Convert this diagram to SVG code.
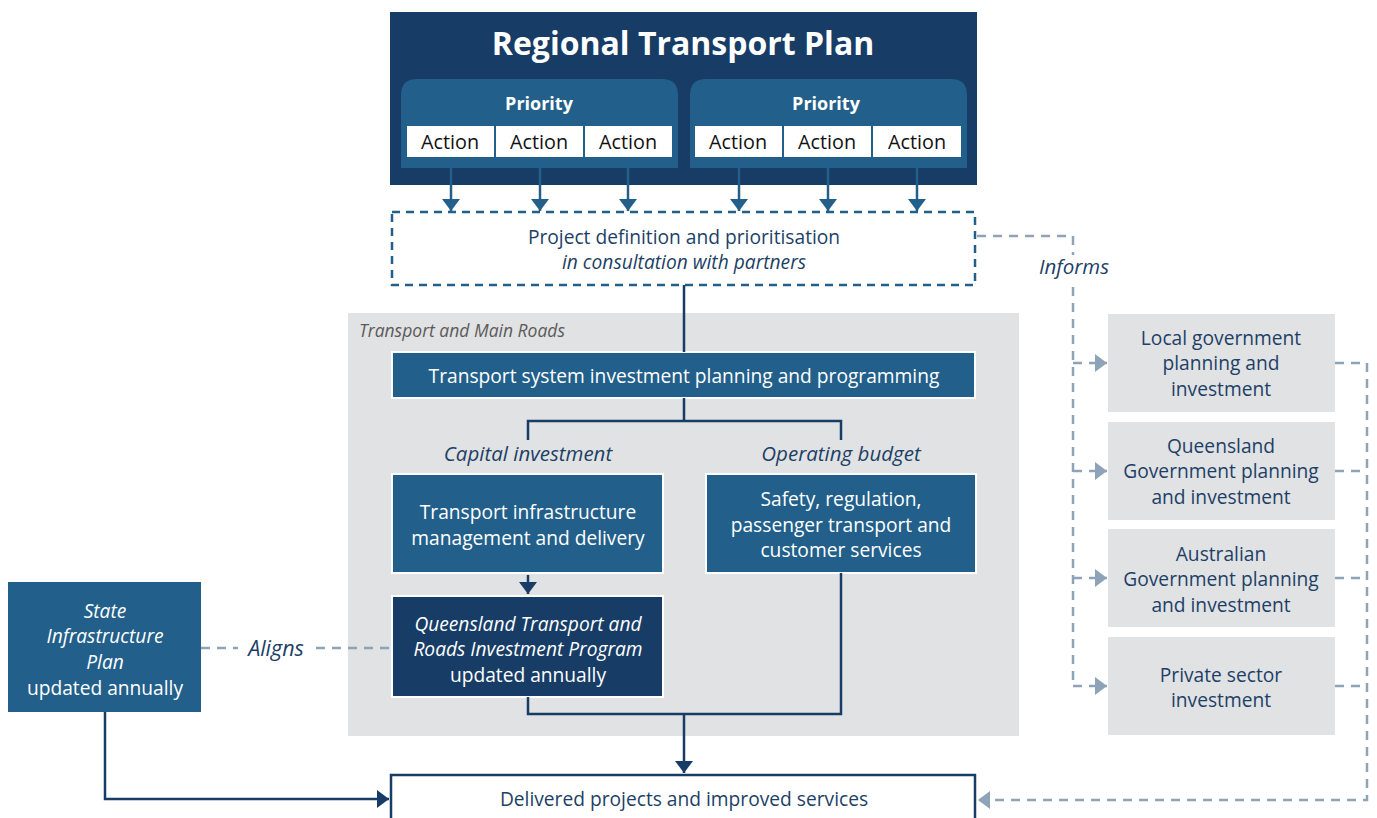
<svg xmlns="http://www.w3.org/2000/svg" width="1377" height="818" viewBox="0 0 1377 818">
<defs>
<style>
text{font-family:"Open Sans","Liberation Sans",sans-serif;font-size:19.2px;text-anchor:middle}
.w{fill:#ffffff}
.d{fill:#1d3f66}
.i{font-style:italic}
.lbl{font-size:20.5px}
.mid{fill:#225f8a}
.navy{fill:#173d66}
.blk{fill:#111}
.ln{fill:none;stroke:#173d66;stroke-width:2.5}
.dg{fill:none;stroke:#8fa3b8;stroke-width:2.5;stroke-dasharray:9 7}
</style>
<marker id="ab" markerWidth="18" markerHeight="12" refX="9" refY="12" orient="0" markerUnits="userSpaceOnUse" viewBox="0 0 18 12"><path d="M0,0 L18,0 L9,12 Z" fill="#225f8a"/></marker>
<marker id="an" markerWidth="18" markerHeight="12" refX="9" refY="12" orient="0" markerUnits="userSpaceOnUse" viewBox="0 0 18 12"><path d="M0,0 L18,0 L9,12 Z" fill="#173d66"/></marker>
<marker id="anr" markerWidth="12" markerHeight="18" refX="12" refY="9" orient="0" markerUnits="userSpaceOnUse" viewBox="0 0 12 18"><path d="M0,0 L12,9 L0,18 Z" fill="#173d66"/></marker>
<marker id="agr" markerWidth="12" markerHeight="18" refX="12" refY="9" orient="0" markerUnits="userSpaceOnUse" viewBox="0 0 12 18"><path d="M0,0 L12,9 L0,18 Z" fill="#8fa3b8"/></marker>
<marker id="agl" markerWidth="12" markerHeight="18" refX="0" refY="9" orient="0" markerUnits="userSpaceOnUse" viewBox="0 0 12 18"><path d="M12,0 L0,9 L12,18 Z" fill="#8fa3b8"/></marker>
</defs>
<rect width="1377" height="818" fill="#ffffff"/>

<g id="tmr-area">
<rect x="348" y="313" width="671" height="423" fill="#e1e2e4"/>
<text x="359" y="337" style="font-size:17.5px;text-anchor:start;fill:#5a5a5a" class="i">Transport and Main Roads</text>
</g>

<g id="rtp">
<rect x="390" y="12" width="587" height="173" class="navy"/>
<text x="683" y="55" class="w" style="font-size:32px;font-weight:bold">Regional Transport Plan</text>
<path d="M401,168 V95 Q401,79 417,79 H662 Q678,79 678,95 V168 Z" class="mid"/>
<path d="M690,168 V95 Q690,79 706,79 H951 Q967,79 967,95 V168 Z" class="mid"/>
<text x="539" y="110" class="w" style="font-weight:bold;font-size:18px">Priority</text>
<text x="826" y="110" class="w" style="font-weight:bold;font-size:18px">Priority</text>
<g fill="#ffffff">
<rect x="407" y="126" width="87" height="31"/>
<rect x="496" y="126" width="87" height="31"/>
<rect x="585" y="126" width="87" height="31"/>
<rect x="695" y="126" width="87" height="31"/>
<rect x="784" y="126" width="87" height="31"/>
<rect x="873" y="126" width="88" height="31"/>
</g>
<text x="450" y="149" class="blk" style="font-size:19.8px">Action</text>
<text x="539" y="149" class="blk" style="font-size:19.8px">Action</text>
<text x="628" y="149" class="blk" style="font-size:19.8px">Action</text>
<text x="738" y="149" class="blk" style="font-size:19.8px">Action</text>
<text x="827" y="149" class="blk" style="font-size:19.8px">Action</text>
<text x="917" y="149" class="blk" style="font-size:19.8px">Action</text>
</g>

<g id="project-definition">
<rect x="392" y="212" width="583" height="73" fill="none" stroke="#225f8a" stroke-width="2.5" stroke-dasharray="8 6"/>
<text x="684" y="244" class="d">Project definition and prioritisation</text>
<text x="684" y="269" class="d i">in consultation with partners</text>
</g>

<g id="tsipp">
<rect x="392" y="352" width="583" height="46" class="mid" stroke="#ffffff" stroke-width="2"/>
<text x="684" y="383" class="w">Transport system investment planning and programming</text>
</g>

<g id="labels">
<text x="528" y="461" class="d i lbl">Capital investment</text>
<text x="841" y="461" class="d i lbl">Operating budget</text>
<text x="276" y="656" class="d i" style="font-size:21.5px">Aligns</text>
<text x="1074" y="274" class="d i lbl">Informs</text>
</g>

<g id="timd">
<rect x="392" y="474" width="271" height="99" class="mid" stroke="#ffffff" stroke-width="2"/>
<text x="528" y="519" class="w">Transport infrastructure</text>
<text x="528" y="545" class="w">management and delivery</text>
</g>

<g id="safety">
<rect x="706" y="474" width="270" height="99" class="mid" stroke="#ffffff" stroke-width="2"/>
<text x="841" y="506" class="w">Safety, regulation,</text>
<text x="841" y="532" class="w">passenger transport and</text>
<text x="841" y="557" class="w">customer services</text>
</g>

<g id="qtrip">
<rect x="392" y="596" width="271" height="101" class="navy" stroke="#ffffff" stroke-width="2"/>
<text x="528" y="631" class="w i">Queensland Transport and</text>
<text x="528" y="656" class="w i">Roads Investment Program</text>
<text x="528" y="682" class="w">updated annually</text>
</g>

<g id="sip">
<rect x="8" y="582" width="193" height="130" class="mid"/>
<text x="105" y="618" class="w i">State</text>
<text x="105" y="643" class="w i">Infrastructure</text>
<text x="105" y="669" class="w i">Plan</text>
<text x="105" y="695" class="w">updated annually</text>
</g>

<g id="delivered">
<rect x="391" y="775" width="584" height="60" fill="#ffffff" stroke="#173d66" stroke-width="2.5"/>
<text x="684" y="806" class="d">Delivered projects and improved services</text>
</g>

<g id="partners">
<rect x="1108" y="314" width="227" height="98" fill="#e1e2e4"/>
<text x="1221" y="345" class="d">Local government</text>
<text x="1221" y="370" class="d">planning and</text>
<text x="1221" y="396" class="d">investment</text>
<rect x="1108" y="422" width="227" height="98" fill="#e1e2e4"/>
<text x="1221" y="453" class="d">Queensland</text>
<text x="1221" y="478" class="d">Government planning</text>
<text x="1221" y="504" class="d">and investment</text>
<rect x="1108" y="529" width="227" height="98" fill="#e1e2e4"/>
<text x="1221" y="561" class="d">Australian</text>
<text x="1221" y="586" class="d">Government planning</text>
<text x="1221" y="612" class="d">and investment</text>
<rect x="1108" y="637" width="227" height="98" fill="#e1e2e4"/>
<text x="1221" y="682" class="d">Private sector</text>
<text x="1221" y="707" class="d">investment</text>
</g>

<g id="connectors">
<path d="M451,168 V211" stroke="#225f8a" stroke-width="2.5" marker-end="url(#ab)"/>
<path d="M540,168 V211" stroke="#225f8a" stroke-width="2.5" marker-end="url(#ab)"/>
<path d="M628,168 V211" stroke="#225f8a" stroke-width="2.5" marker-end="url(#ab)"/>
<path d="M739,168 V211" stroke="#225f8a" stroke-width="2.5" marker-end="url(#ab)"/>
<path d="M828,168 V211" stroke="#225f8a" stroke-width="2.5" marker-end="url(#ab)"/>
<path d="M917,168 V211" stroke="#225f8a" stroke-width="2.5" marker-end="url(#ab)"/>
<path d="M684,285 V352" class="ln"/>
<path d="M684,398 V421 M528,440 V421 H841 V440" class="ln"/>
<path d="M528,575 V594" class="ln" marker-end="url(#an)"/>
<path d="M528,697 V714 H841 V573" class="ln"/>
<path d="M684,714 V773" class="ln" marker-end="url(#an)"/>
<path d="M105,712 V799 H389" class="ln" marker-end="url(#anr)"/>
<path d="M201,648 H238 M316,648 H392" class="dg"/>
<path d="M977,236 H1073 V255" class="dg"/>
<path d="M1073,287 V686" class="dg"/>
<path d="M1073,363 H1107" class="dg" marker-end="url(#agr)"/>
<path d="M1073,471 H1107" class="dg" marker-end="url(#agr)"/>
<path d="M1073,578 H1107" class="dg" marker-end="url(#agr)"/>
<path d="M1073,686 H1107" class="dg" marker-end="url(#agr)"/>
<path d="M1335,363 H1367 M1335,471 H1367 M1335,578 H1367 M1335,686 H1367" class="dg"/>
<path d="M1367,363 V800 H978" class="dg" marker-end="url(#agl)"/>
</g>
</svg>
